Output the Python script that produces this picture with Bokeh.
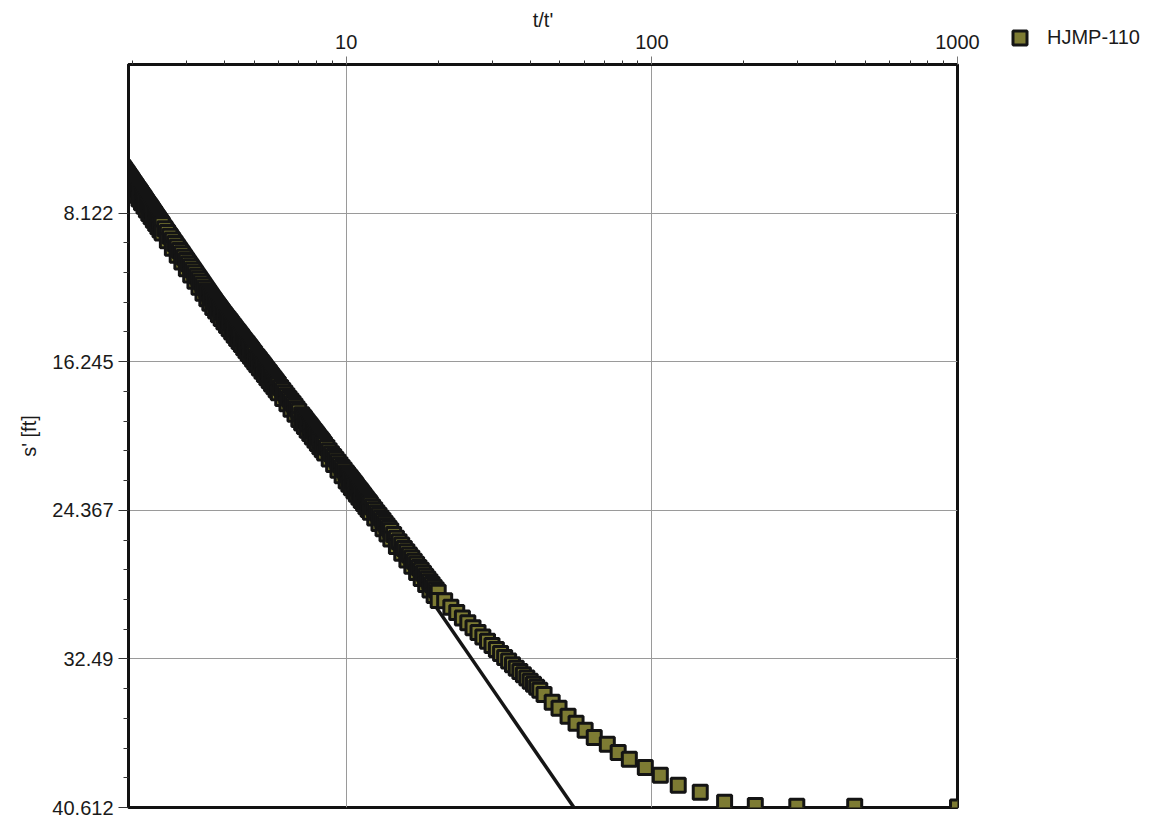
from bokeh.plotting import figure
from bokeh.models import Range1d, FixedTicker, Legend, LegendItem, ColumnDataSource
from bokeh.embed import file_html
from bokeh.resources import INLINE

# ---- data ----
# readings along the centre / upper side of the data band, and the isolated points
t_ratio = [
    1.86, 1.88, 1.90, 1.92, 1.94, 1.96, 1.98, 2.00, 2.02, 2.04, 2.06, 2.08, 2.10, 2.12, 2.14,
    2.16, 2.18, 2.20, 2.22, 2.24, 2.26, 2.28, 2.30, 2.32, 2.34, 2.36, 2.38, 2.40, 2.42, 2.44,
    2.46, 2.48, 2.50,
    2.55, 2.60, 2.65, 2.70, 2.75, 2.80, 2.85, 2.90, 2.95, 3.00, 3.05, 3.10, 3.15, 3.20, 3.25,
    3.30, 3.35, 3.40, 3.45, 3.50,
    3.54, 3.58, 3.62, 3.66, 3.70, 3.74, 3.78, 3.82, 3.86, 3.90, 3.94, 3.98, 4.02, 4.06, 4.10,
    4.14, 4.18, 4.22, 4.26, 4.30, 4.34, 4.38, 4.42, 4.46, 4.50, 4.54, 4.58, 4.62, 4.66, 4.70,
    4.74, 4.78, 4.82, 4.86, 4.90, 4.94, 4.98, 5.02,
    5.10, 5.15, 5.20, 5.25, 5.30, 5.35, 5.40, 5.45, 5.50, 5.55, 5.60, 5.65, 5.70, 5.75, 5.80,
    5.85, 5.90, 5.95, 6.0, 6.1, 6.2, 6.3, 6.4, 6.5, 6.6, 6.7, 6.8, 6.9, 7.0,
    7.15, 7.225, 7.30, 7.375, 7.45, 7.525, 7.60, 7.675, 7.75, 7.825, 7.90, 7.975, 8.05, 8.125,
    8.20, 8.275, 8.35, 8.425, 8.50, 8.65, 8.80, 8.95, 9.10, 9.25, 9.40, 9.55, 9.70, 9.85, 10.0,
    10.1, 10.2, 10.3, 10.4, 10.5, 10.6, 10.7, 10.8, 10.9, 11.0, 11.1, 11.2, 11.3, 11.4, 11.5,
    11.6, 11.7, 11.8, 11.9, 12.0, 12.2, 12.4, 12.6, 12.8, 13.0, 13.2, 13.4, 13.6, 13.8, 14.0,
    14.3, 14.6, 14.9, 15.2, 15.5, 15.8, 16.1, 16.4, 16.7, 17.0, 17.3, 17.6, 17.9, 18.2, 18.5,
    18.8, 19.1, 19.4, 19.7, 20.0,
    21, 22, 23, 24, 25, 26, 27, 28, 29, 30, 31, 32, 33, 34, 35, 36, 37, 38, 39, 40, 41, 42, 43,
    44.4, 47.2, 49.7, 53.2, 56.5, 60.5, 64.8, 71.5, 77.6, 84.4, 95.2, 106.6, 122, 144, 173,
    218, 298, 461, 1000]
s_resid = [
    5.61, 5.72, 5.83, 5.94, 6.06, 6.16, 6.27, 6.38, 6.49, 6.60, 6.70, 6.80, 6.90, 7.00, 7.10,
    7.20, 7.30, 7.40, 7.50, 7.60, 7.69, 7.78, 7.87, 7.97, 8.06, 8.15, 8.24, 8.33, 8.42, 8.51,
    8.59, 8.68, 8.76,
    8.98, 9.18, 9.39, 9.59, 9.78, 9.98, 10.16, 10.35, 10.53, 10.71, 10.89, 11.06, 11.23, 11.40,
    11.57, 11.73, 11.89, 12.05, 12.21, 12.36,
    12.48, 12.60, 12.72, 12.83, 12.93, 13.03, 13.13, 13.23, 13.33, 13.43, 13.53, 13.62, 13.72,
    13.81, 13.90, 13.99, 14.08, 14.17, 14.26, 14.35, 14.44, 14.52, 14.61, 14.69, 14.78, 14.86,
    14.95, 15.03, 15.11, 15.19, 15.27, 15.35, 15.43, 15.50, 15.58, 15.66, 15.74, 15.81,
    15.96, 16.05, 16.14, 16.23, 16.32, 16.41, 16.50, 16.59, 16.67, 16.76, 16.84, 16.93, 17.01,
    17.09, 17.17, 17.26, 17.34, 17.42, 17.49, 17.65, 17.80, 17.95, 18.10, 18.25, 18.39, 18.53,
    18.67, 18.81, 18.95,
    19.15, 19.25, 19.34, 19.44, 19.54, 19.63, 19.72, 19.82, 19.91, 20.00, 20.09, 20.18, 20.27,
    20.36, 20.44, 20.53, 20.61, 20.70, 20.78, 20.94, 21.11, 21.27, 21.42, 21.58, 21.73, 21.88,
    22.03, 22.17, 22.31,
    22.41, 22.50, 22.59, 22.68, 22.77, 22.86, 22.95, 23.04, 23.13, 23.21, 23.30, 23.38, 23.47,
    23.55, 23.64, 23.72, 23.80, 23.88, 23.96, 24.03, 24.19, 24.34, 24.50, 24.64, 24.79, 24.93,
    25.08, 25.21, 25.35, 25.49,
    25.69, 25.89, 26.08, 26.26, 26.45, 26.63, 26.81, 26.98, 27.15, 27.32, 27.49, 27.65, 27.81,
    27.97, 28.12, 28.27, 28.42, 28.57, 28.71, 28.85,
    29.31, 29.66, 29.96, 30.25, 30.52, 30.79, 31.05, 31.29, 31.53, 31.76, 31.98, 32.20, 32.41,
    32.61, 32.81, 33.00, 33.18, 33.36, 33.54, 33.71, 33.88, 34.04, 34.20,
    34.43, 34.86, 35.19, 35.63, 36.01, 36.39, 36.78, 37.16, 37.60, 37.98, 38.42, 38.85, 39.40,
    39.78, 40.33, 40.50, 40.55, 40.55, 40.58]

# readings along the lower (left) edge of the dense band
t_ratio_edge = [
    1.86, 1.90, 1.94, 1.98, 2.02, 2.06, 2.10, 2.14, 2.18, 2.22, 2.26, 2.30, 2.34, 2.38, 2.42,
    2.46, 2.50,
    2.60, 2.70, 2.80, 2.90, 3.00, 3.10, 3.20, 3.30, 3.40, 3.50,
    3.58, 3.66, 3.74, 3.82, 3.90, 3.98, 4.06, 4.14, 4.22, 4.30, 4.38, 4.46, 4.54, 4.62, 4.70,
    4.78, 4.86, 4.94, 5.02,
    5.1, 5.2, 5.3, 5.4, 5.5, 5.6, 5.7, 5.8, 5.9, 6.0, 6.2, 6.4, 6.6, 6.8, 7.0,
    7.15, 7.30, 7.45, 7.60, 7.75, 7.90, 8.05, 8.20, 8.35, 8.50, 8.80, 9.10, 9.40, 9.70, 10.0,
    10.2, 10.4, 10.6, 10.8, 11.0, 11.2, 11.4, 11.6, 11.8, 12.0, 12.4, 12.8, 13.2, 13.6, 14.0,
    14.6, 15.2, 15.8, 16.4, 17.0, 17.6, 18.2, 18.8, 19.4, 20.0]
s_resid_edge = [
    6.06, 6.28, 6.51, 6.72, 6.94, 7.15, 7.35, 7.55, 7.75, 7.95, 8.14, 8.32, 8.51, 8.69, 8.87,
    9.04, 9.21,
    9.63, 10.04, 10.43, 10.80, 11.16, 11.51, 11.85, 12.18, 12.50, 12.81,
    13.05, 13.28, 13.48, 13.68, 13.88, 14.07, 14.26, 14.44, 14.62, 14.80, 14.97, 15.14, 15.31,
    15.48, 15.64, 15.80, 15.95, 16.11, 16.26,
    16.41, 16.59, 16.77, 16.95, 17.12, 17.29, 17.46, 17.62, 17.79, 17.94, 18.25, 18.55, 18.84,
    19.12, 19.40,
    19.60, 19.79, 19.99, 20.17, 20.36, 20.54, 20.72, 20.89, 21.06, 21.23, 21.56, 21.87, 22.18,
    22.48, 22.76,
    22.95, 23.13, 23.31, 23.49, 23.66, 23.83, 24.00, 24.17, 24.33, 24.48, 24.79, 25.09, 25.38,
    25.66, 25.94,
    26.34, 26.71, 27.08, 27.43, 27.77, 28.10, 28.42, 28.72, 29.02, 29.30]

# straight-line fit
fit_t = [1, 100]
fit_s = [-1.77, 46.8]

series_name = "HJMP-110"
x_major = [10, 100, 1000]
x_major_labels = ["10", "100", "1000"]
y_major = [8.122, 16.245, 24.367, 32.49, 40.612]
y_major_labels = ["8.122", "16.245", "24.367", "32.49", "40.612"]

FONT = "Liberation Sans"
TXT = "#1a1a1a"

# all points of the series, drawn in order of t/t'
pairs = sorted(zip(t_ratio + t_ratio_edge, s_resid + s_resid_edge), key=lambda q: q[0])
src = ColumnDataSource(data=dict(t=[q[0] for q in pairs], s=[q[1] for q in pairs]))

p = figure(frame_width=829, frame_height=743, x_axis_type="log", x_axis_location="above",
           x_range=Range1d(1.94, 1000), y_range=Range1d(40.612, 0),
           output_backend="svg", toolbar_location=None,
           min_border_left=128, min_border_right=193, min_border_top=64, min_border_bottom=11)

p.background_fill_color = "white"
p.border_fill_color = "white"
p.outline_line_color = "#111111"
p.outline_line_width = 3

# grids
p.xgrid.grid_line_color = "#9a9a9a"
p.ygrid.grid_line_color = "#9a9a9a"
p.xgrid.grid_line_width = 1
p.ygrid.grid_line_width = 1

# x axis (top, log)
x_minor = [m * d for d in (1, 10, 100) for m in range(2, 10)]
xa = p.xaxis[0]
xa.ticker = FixedTicker(ticks=x_major, minor_ticks=x_minor)
xa.major_label_overrides = {v: l for v, l in zip(x_major, x_major_labels)}
xa.axis_line_width = 3
xa.axis_line_color = "#111111"
xa.major_tick_out = 8
xa.major_tick_in = 0
xa.minor_tick_out = 4
xa.minor_tick_in = 0
xa.major_tick_line_color = "#777777"
xa.minor_tick_line_color = "#333333"
xa.major_label_text_font = FONT
xa.major_label_text_font_size = "20px"
xa.major_label_text_color = TXT
xa.major_label_standoff = 8
xa.axis_label = "t/t'"
xa.axis_label_text_font = FONT
xa.axis_label_text_font_size = "20px"
xa.axis_label_text_font_style = "normal"
xa.axis_label_text_color = TXT
xa.axis_label_standoff = 1

# y axis (left, inverted)
step = (y_major[1] - y_major[0]) / 5
y_minor = [y_major[i] + k * step for i in range(len(y_major) - 1) for k in range(1, 5)]
ya = p.yaxis[0]
ya.ticker = FixedTicker(ticks=y_major, minor_ticks=y_minor)
ya.major_label_overrides = {v: l for v, l in zip(y_major, y_major_labels)}
ya.axis_line_width = 3
ya.axis_line_color = "#111111"
ya.major_tick_out = 10
ya.major_tick_in = 0
ya.minor_tick_out = 5
ya.minor_tick_in = 0
ya.major_tick_line_color = "#333333"
ya.minor_tick_line_color = "#333333"
ya.major_label_text_font = FONT
ya.major_label_text_font_size = "20px"
ya.major_label_text_color = TXT
ya.major_label_standoff = 5
ya.axis_label = "s' [ft]"
ya.axis_label_text_font = FONT
ya.axis_label_text_font_size = "20px"
ya.axis_label_text_font_style = "normal"
ya.axis_label_text_color = TXT
ya.axis_label_standoff = 9

# glyphs
p.line(fit_t, fit_s, line_color="#151515", line_width=3.5)
sc = p.scatter("t", "s", source=src, marker="square", size=14,
               fill_color="#7d7b33", line_color="#141414", line_width=3)

legend = Legend(items=[LegendItem(label=series_name, renderers=[sc])],
                location=(45, 752), glyph_width=35, glyph_height=35,
                padding=0, spacing=0, margin=0, label_standoff=10,
                border_line_color=None, background_fill_alpha=0,
                label_text_font=FONT, label_text_font_size="20px",
                label_text_color=TXT)
p.add_layout(legend, "right")

open("out.html", "w").write(file_html(p, INLINE))
